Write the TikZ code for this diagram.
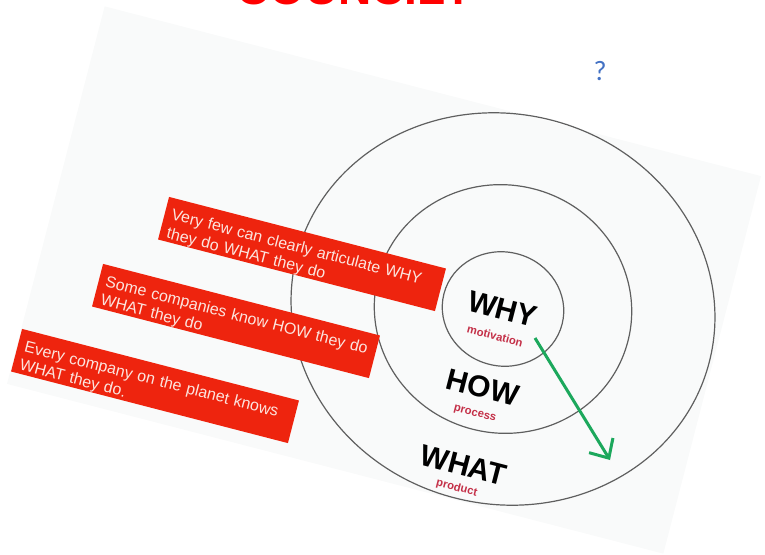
\documentclass[tikz,border=0pt]{standalone}
\usepackage{fontspec}
\setmainfont{Liberation Sans}
\newfontfamily\qfont{Carlito}
\usetikzlibrary{arrows.meta}
\definecolor{boxred}{RGB}{238,36,14}
\definecolor{boxtxt}{RGB}{252,228,222}
\definecolor{ringgray}{RGB}{95,95,95}
\definecolor{subred}{RGB}{196,48,72}
\definecolor{arrowgreen}{RGB}{28,168,92}
\definecolor{qblue}{RGB}{68,114,196}
\definecolor{paper}{RGB}{249,250,250}
\begin{document}
\begin{tikzpicture}[x=1pt,y=-1pt,
  redbox/.style={fill=boxred, draw=none, minimum width=286pt, minimum height=44pt, inner sep=0pt},
  boxtext/.style={text=boxtxt, font=\fontsize{16}{19}\selectfont, align=left, anchor=north west, inner sep=0pt, text width=280pt},
  ring/.style={draw=ringgray, line width=1.2pt},
  bigword/.style={font=\fontsize{30}{32}\selectfont\bfseries, text=black, inner sep=0pt},
  subword/.style={font=\fontsize{11.3}{12}\selectfont\bfseries, text=subred, inner sep=0pt},
  arrowline/.style={draw=arrowgreen, line width=3pt, -{Straight Barb[length=15pt,width=28pt]}}
]
\useasboundingbox (0,0) rectangle (765,554);
\clip (0,0) rectangle (765,554);
% title (cut at the top edge) and question mark
\node[font=\fontsize{46}{50}\selectfont\bfseries, text=red, anchor=base west, inner sep=0pt] (title) at (236,4.5) {COUNCIL?};
\node[font=\qfont\fontsize{28}{30}\selectfont, text=qblue, anchor=base, inner sep=0pt] (q) at (600,80) {?};
% tilted sheet
\node[fill=paper, minimum width=678pt, minimum height=390pt, rotate=-14.5, inner sep=0pt] (sheet) at (384,280) {};
% golden circle
\begin{scope}[shift={(503,309)}, rotate=-14.5, transform shape]
  \draw[ring] (0,0) ellipse [x radius=213, y radius=195];
  \draw[ring] (0,0) ellipse [x radius=129, y radius=124];
  \draw[ring] (0,0) ellipse [x radius=61, y radius=57];
  \node[bigword] (why) at (0,0) {WHY};
  \node[subword] (mot) at (-1,28) {motivation};
  \node[bigword] (how) at (0,81) {HOW};
  \node[subword] (pro) at (-1,109) {process};
  \node[bigword] (what) at (1,161) {WHAT};
  \node[subword] (prd) at (0,185) {product};
\end{scope}
% arrow
\coordinate (a0) at (535,338);
\coordinate (a1) at (610,460);
\draw[arrowline] (a0) -- (a1);
% red boxes
\begin{scope}[shift={(302,254)}, rotate=-14.5, transform shape]
  \node[redbox] (b1) at (0,0) {};
  \node[boxtext] (t1) at (-136,-12.3) {Very few can clearly articulate WHY\\they do WHAT they do};
\end{scope}
\begin{scope}[shift={(236,321)}, rotate=-14.5, transform shape]
  \node[redbox] (b2) at (0,0) {};
  \node[boxtext] (t2) at (-136,-12.3) {Some companies know HOW they do\\WHAT they do};
\end{scope}
\begin{scope}[shift={(155,386)}, rotate=-14.5, transform shape]
  \node[redbox] (b3) at (0,0) {};
  \node[boxtext] (t3) at (-136,-12.3) {Every company on the planet knows\\WHAT they do.};
\end{scope}
\end{tikzpicture}
\end{document}
